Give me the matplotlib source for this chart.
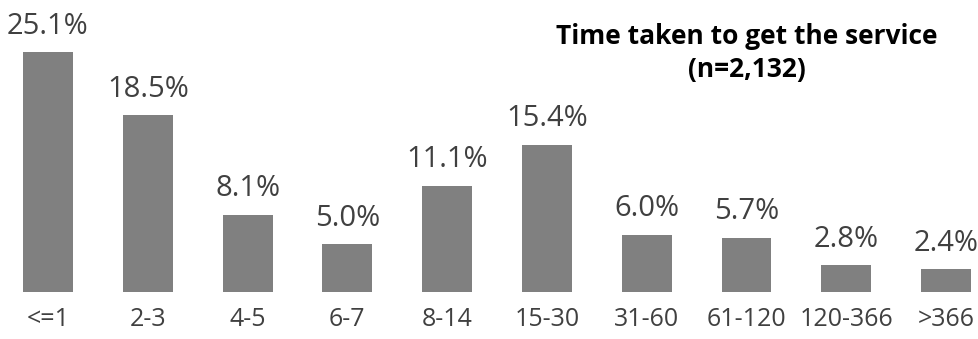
import matplotlib.pyplot as plt

# Days taken to get the service, share of respondents (%)
categories = ["<=1", "2-3", "4-5", "6-7", "8-14", "15-30", "31-60", "61-120", "120-366", ">366"]
shares = [25.1, 18.5, 8.1, 5.0, 11.1, 15.4, 6.0, 5.7, 2.8, 2.4]

plt.rcParams['font.family'] = ['Open Sans', 'DejaVu Sans']

fig = plt.figure(figsize=(9.79, 3.39), dpi=100)
ax = fig.add_axes([0, 47 / 339, 1, 292 / 339])

x = range(len(categories))
ax.bar(x, shares, width=0.5, color="#808080")

for xi, v in zip(x, shares):
    ax.text(xi, v + 1.2, f"{v:.1f}%", ha="center", va="bottom",
            fontsize=21, color="#404040")

ax.set_xlim(-0.481, 9.33)
ax.set_ylim(0, 30.54)
ax.set_xticks(list(x))
ax.set_xticklabels(categories, fontsize=18, color="#404040")
ax.tick_params(axis="x", length=0, pad=11)
ax.set_yticks([])
for s in ax.spines.values():
    s.set_visible(False)

fig.text(0.763, 0.843, "Time taken to get the service\n(n=2,132)", ha="center", va="center",
         fontsize=19, fontweight="bold", color="black", linespacing=1.3)

fig.savefig("out.png", dpi=100)
